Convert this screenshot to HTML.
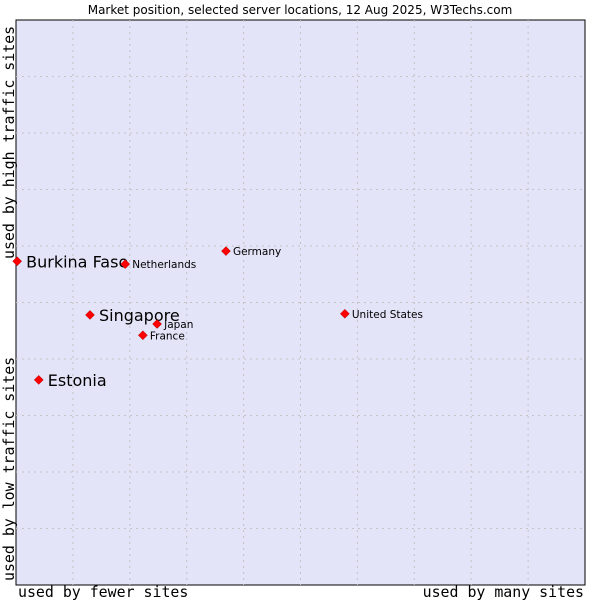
<!DOCTYPE html>
<html><head><meta charset="utf-8"><style>
body{margin:0;background:#fff;}
svg{display:block;}
</style></head><body>
<svg width="600" height="600" xmlns="http://www.w3.org/2000/svg">
<rect x="0" y="0" width="600" height="600" fill="#fff"/>
<text x="300" y="14" text-anchor="middle" font-family="DejaVu Sans, sans-serif" font-size="12" fill="#000">Market position, selected server locations, 12 Aug 2025, W3Techs.com</text>
<rect x="16" y="20" width="569" height="565" fill="#e3e4f8" stroke="#000" stroke-width="1"/>
<g id="grid"></g>
<g id="pts"></g>
<text x="18" y="597" font-family="DejaVu Sans Mono, monospace" font-size="14.9">used by fewer sites</text>
<text x="584" y="597" text-anchor="end" font-family="DejaVu Sans Mono, monospace" font-size="14.9">used by many sites</text>
<text transform="translate(14,581) rotate(-90)" font-family="DejaVu Sans Mono, monospace" font-size="14.9">used by low traffic sites</text>
<text transform="translate(14,259) rotate(-90)" font-family="DejaVu Sans Mono, monospace" font-size="14.9">used by high traffic sites</text>
</svg>
<script>
const names=["Burkina Faso","Netherlands","Germany","Singapore","Japan","France","United States","Estonia"];
const xVals=[0.2,19.2,36.9,13.0,24.8,22.3,57.8,4.0];
const yVals=[57.3,56.8,59.1,47.8,46.2,44.2,48.0,36.3];
const big=[true,false,false,true,false,false,false,true];
const L=16,R=585,T=20,B=585;
const sx=v=>L+v/100*(R-L), sy=v=>B-v/100*(B-T);
const NS="http://www.w3.org/2000/svg";
const grid=document.getElementById('grid');
for(let i=1;i<10;i++){
  const x=sx(i*10),y=sy(i*10);
  const v=document.createElementNS(NS,'line');
  v.setAttribute('x1',x);v.setAttribute('x2',x);v.setAttribute('y1',T);v.setAttribute('y2',B);
  v.setAttribute('stroke','#c4c4c4');v.setAttribute('stroke-dasharray','2,4');
  
  
  grid.appendChild(v);
  const h=document.createElementNS(NS,'line');
  h.setAttribute('x1',L);h.setAttribute('x2',R);h.setAttribute('y1',y);h.setAttribute('y2',y);
  h.setAttribute('stroke','#c4c4c4');h.setAttribute('stroke-dasharray','2,4');
  
  
  grid.appendChild(h);
}
const pts=document.getElementById('pts');
names.forEach((n,i)=>{
  const x=sx(xVals[i]),y=sy(yVals[i]);
  const d=document.createElementNS(NS,'path');
  d.setAttribute('d',`M${x-4.5},${y}L${x},${y-4.5}L${x+4.5},${y}L${x},${y+4.5}Z`);
  d.setAttribute('fill','#f00');d.setAttribute('stroke','#a00');d.setAttribute('stroke-width','0.5');
  
  
  pts.appendChild(d);
  const t=document.createElementNS(NS,'text');
  t.setAttribute('x',x+(big[i]?9:7));
  t.setAttribute('y',y+(big[i]?6:4));
  t.setAttribute('font-family','DejaVu Sans, sans-serif');
  t.setAttribute('font-size',big[i]?'16':'10.5');
  t.textContent=n;
  
  
  pts.appendChild(t);
});
</script>
</body></html>
